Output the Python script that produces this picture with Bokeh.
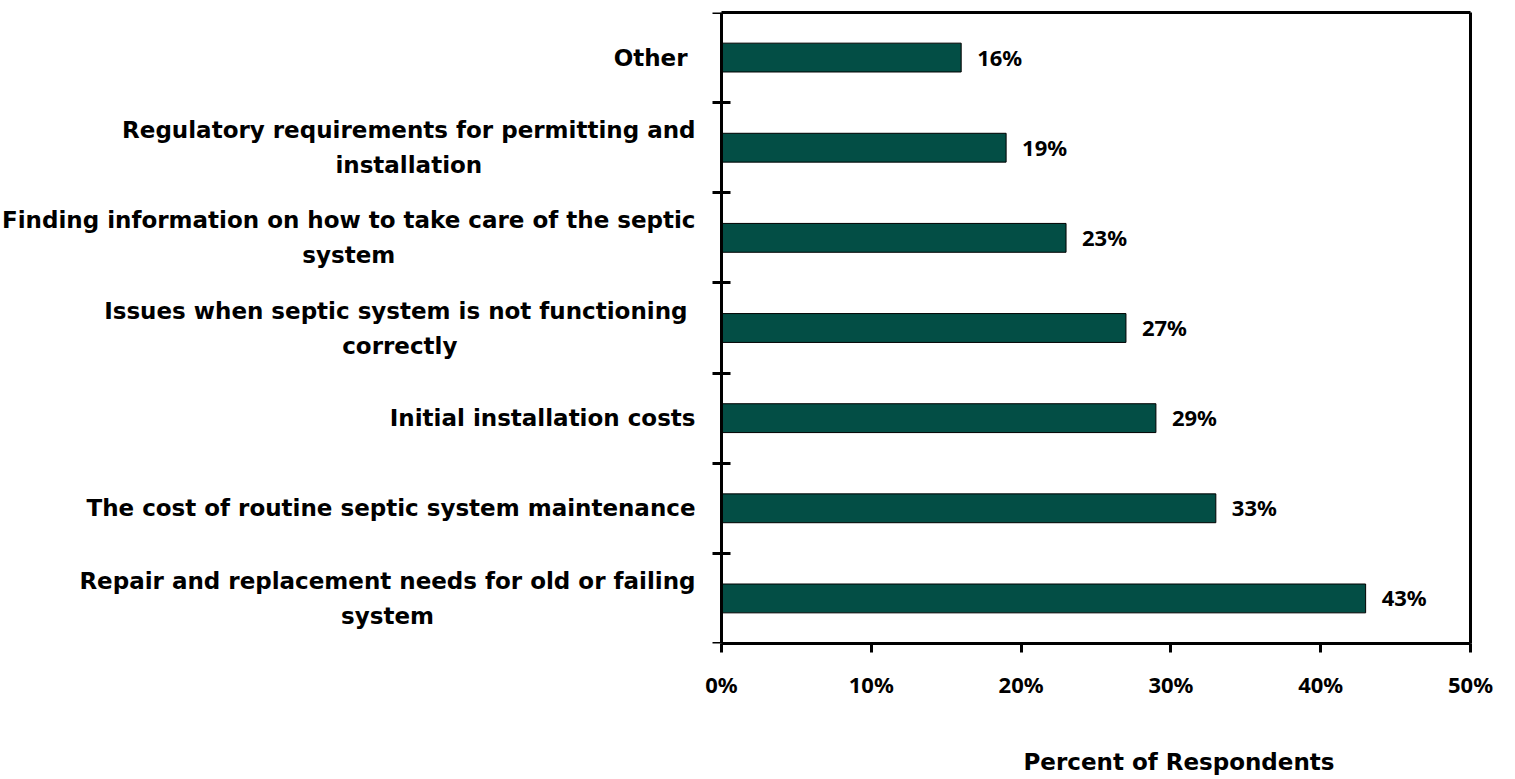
import glob
from bokeh.plotting import figure
from bokeh.models import (Range1d, FixedTicker, PrintfTickFormatter, ColumnDataSource,
                          LabelSet, Label, LinearAxis, Title)
from bokeh.core.properties import value
from bokeh.embed import file_html
from bokeh.resources import INLINE

# ---- data (bottom to top) ----
categories = [
    "Repair and replacement needs for old or failing\nsystem",
    "The cost of routine septic system maintenance",
    "Initial installation costs",
    "Issues when septic system is not functioning \ncorrectly",
    "Finding information on how to take care of the septic\nsystem",
    "Regulatory requirements for permitting and\ninstallation",
    "Other ",
]
values = [43, 33, 29, 27, 23, 19, 16]
x_ticks = [0, 10, 20, 30, 40, 50]
axis_title = "Percent of Respondents"

positions = list(range(1, len(categories) + 1))
value_labels = [f"{v}%" for v in values]

TEXT_FONT = "DejaVu Sans"
NUM_FONT = "Noto Sans"
TEXT_PX = 23
NUM_PX = 22
FS = f"{TEXT_PX}px"
NFS = f"{NUM_PX}px"
BAR_COLOR = "#034E45"

W, H = 1515, 779
ZERO_PX = 721          # where 0% sits on the canvas
FRAME_RIGHT_PX = 1470  # where 50% sits
X_MAX = x_ticks[-1]
X_MIN = -X_MAX * ZERO_PX / (FRAME_RIGHT_PX - ZERO_PX)  # room for category labels

_font = None
try:
    from PIL import ImageFont
    cands = glob.glob("/usr/share/fonts/**/DejaVuSans-Bold.ttf", recursive=True)
    if cands:
        _font = ImageFont.truetype(cands[0], TEXT_PX)
except Exception:
    _font = None


def text_width(s):
    if _font is not None:
        return _font.getlength(s)
    return len(s) * 0.63 * TEXT_PX


src = ColumnDataSource(dict(y=positions, v=values, lab=value_labels))

p = figure(width=W, height=H, output_backend="svg", toolbar_location=None,
           x_range=Range1d(X_MIN, X_MAX), y_range=Range1d(0.5, len(categories) + 0.5),
           y_axis_location=None,
           min_border_left=0, min_border_right=W - FRAME_RIGHT_PX,
           min_border_top=12, min_border_bottom=136)

p.hbar(y="y", right="v", left=0, height=0.32, source=src,
       fill_color=BAR_COLOR, line_color="black", line_width=1)

p.xgrid.visible = False
p.ygrid.visible = False
p.outline_line_color = None

# bottom x axis (only spanning 0..50%)
xa = p.xaxis[0]
xa.bounds = (0, X_MAX)
xa.ticker = FixedTicker(ticks=x_ticks)
xa.formatter = PrintfTickFormatter(format="%d%%")
xa.axis_line_width = 3
xa.major_tick_line_width = 3
xa.major_tick_in = 0
xa.major_tick_out = 9
xa.minor_tick_out = 0
xa.minor_tick_in = 0
xa.major_label_standoff = 16
xa.major_label_text_font = NUM_FONT
xa.major_label_text_font_style = "bold"
xa.major_label_text_font_size = NFS
xa.major_label_text_color = "black"

# invisible spacer between tick labels and the axis title
spacer = LinearAxis(ticker=FixedTicker(ticks=[x_ticks[0]]), axis_line_color=None,
                    major_tick_out=46, major_tick_in=0, major_tick_line_color=None,
                    minor_tick_out=0, minor_tick_in=0, major_label_standoff=0,
                    major_label_overrides={x_ticks[0]: ""},
                    major_label_text_font_size="1px")
p.add_layout(spacer, "below")

# top border (axis line only)
top_ax = LinearAxis(bounds=(0, X_MAX), ticker=FixedTicker(ticks=[]),
                    axis_line_width=3, major_tick_out=0, major_tick_in=0,
                    minor_tick_out=0, minor_tick_in=0, major_label_standoff=0)
p.add_layout(top_ax, "above")

# y axis drawn at x = 0 with ticks at category boundaries
ya = LinearAxis(fixed_location=0,
                ticker=FixedTicker(ticks=[],
                                   minor_ticks=[q - 0.5 for q in positions] + [positions[-1] + 0.5]),
                axis_line_width=3, major_tick_in=0, major_tick_out=0,
                minor_tick_in=9, minor_tick_out=9, minor_tick_line_width=3,
                major_label_standoff=0)
p.add_layout(ya, "right")

# right border (axis line only)
right_ax = LinearAxis(ticker=FixedTicker(ticks=[]), axis_line_width=3,
                      major_tick_out=0, major_tick_in=0, minor_tick_out=0, minor_tick_in=0,
                      major_label_standoff=0)
p.add_layout(right_ax, "right")

# category labels: first line right-aligned, following lines centred under it
RIGHT_GAP = 26
LINE_STEP = 35
for q, cat in zip(positions, categories):
    lines = cat.split("\n")
    n = len(lines)
    w0 = text_width(lines[0])
    for j, line in enumerate(lines):
        yoff = (n - 1) / 2 * LINE_STEP - j * LINE_STEP
        if j == 0:
            xoff, align = -RIGHT_GAP, "right"
        else:
            xoff, align = -RIGHT_GAP - w0 / 2, "center"
        p.add_layout(Label(x=0, y=q, x_offset=xoff, y_offset=yoff, text=line,
                           text_align=align, text_baseline="middle",
                           text_font=TEXT_FONT, text_font_style="bold",
                           text_font_size=FS, text_color="black"))

# value labels
labels = LabelSet(x="v", y="y", text="lab", source=src, x_offset=16, y_offset=1,
                  text_baseline="middle", text_align="left",
                  text_font=value(NUM_FONT), text_font_style="bold",
                  text_font_size=NFS, text_color="black")
p.add_layout(labels)

# axis title (below the x axis)
ttl = Title(text=axis_title, align="left", offset=1023, standoff=0,
            vertical_align="middle",
            text_font=TEXT_FONT, text_font_style="bold", text_font_size=FS,
            text_color="black")
p.add_layout(ttl, "below")

open("out.html", "w").write(file_html(p, INLINE))
